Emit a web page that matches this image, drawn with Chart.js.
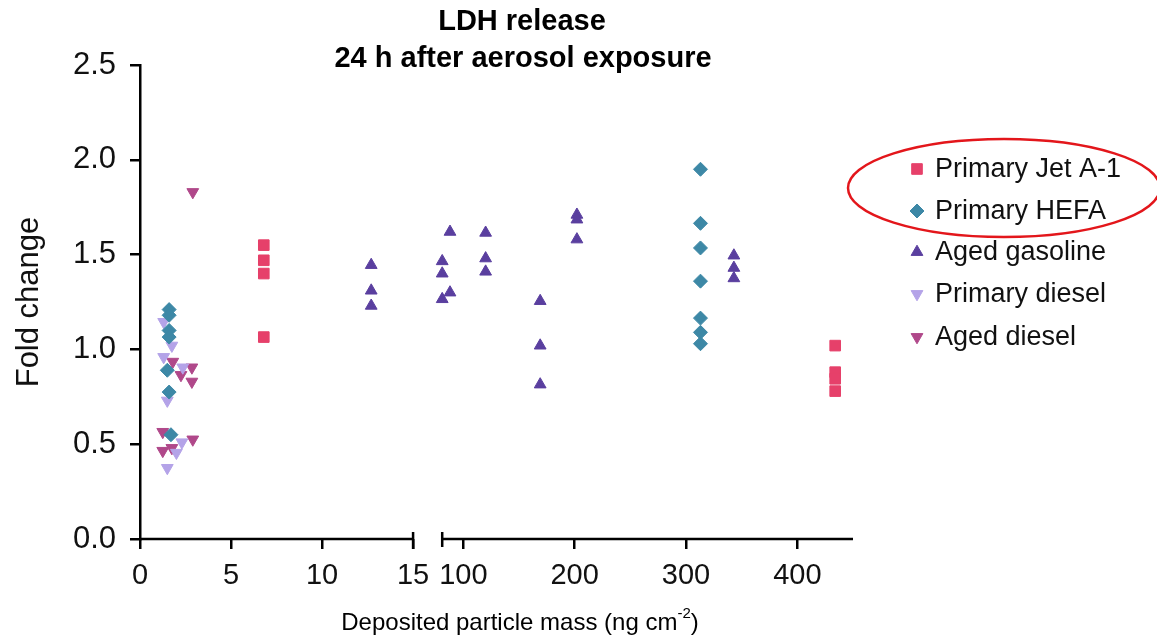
<!DOCTYPE html>
<html>
<head>
<meta charset="utf-8">
<script src="https://cdn.jsdelivr.net/npm/chart.js@4.4.1/dist/chart.umd.min.js"></script>
<style>
  html, body { margin: 0; background: #fff; }
</style>
</head>
<body>
<canvas id="ldhChart" width="1157" height="636"></canvas>
<script>
// deposited mass (ng cm-2) and fold change per aerosol type
const jetX = [6.8, 6.8, 6.8, 6.8, 434, 434, 434, 434];
const jetY = [1.55, 1.47, 1.40, 1.065, 1.02, 0.88, 0.845, 0.78];

const hefaX = [1.6, 1.6, 1.6, 1.6, 1.5, 1.6, 1.7, 313, 313, 313, 313, 313, 313, 313];
const hefaY = [1.21, 1.18, 1.10, 1.065, 0.89, 0.775, 0.55, 1.95, 1.665, 1.535, 1.36, 1.165, 1.09, 1.03];

const gasX = [12.7, 12.7, 12.7, 81, 81, 81, 88, 88, 120, 120, 120, 169, 169, 169, 202, 202, 202, 343, 343, 343];
const gasY = [1.445, 1.31, 1.23, 1.465, 1.40, 1.265, 1.62, 1.30, 1.615, 1.48, 1.41, 1.255, 1.02, 0.815, 1.71, 1.685, 1.58, 1.495, 1.43, 1.375];

const pDieselX = [1.3, 1.75, 1.3, 2.35, 1.5, 2.3, 2.0, 1.5];
const pDieselY = [1.145, 1.02, 0.96, 0.905, 0.73, 0.51, 0.455, 0.375];

const aDieselX = [2.9, 1.8, 2.85, 2.25, 2.85, 1.25, 2.9, 1.75, 1.25];
const aDieselY = [1.83, 0.935, 0.905, 0.865, 0.83, 0.565, 0.525, 0.48, 0.465];

const seriesNames = ['Primary Jet A-1', 'Primary HEFA', 'Aged gasoline', 'Primary diesel', 'Aged diesel'];
const xTickValues = [0, 5, 10, 15, 100, 200, 300, 400];
const yTicks = [0, 0.5, 1.0, 1.5, 2.0, 2.5];

// broken x axis: 0-15 linear, then 81-450 compressed
const BREAK_AT = 15;
const RIGHT_START = 81;
const RIGHT_OFFSET = 16.6;
const RIGHT_SCALE = 0.06115;
function toAxis(v) {
  return v <= BREAK_AT ? v : RIGHT_OFFSET + (v - RIGHT_START) * RIGHT_SCALE;
}

function pts(xs, ys) {
  return xs.map((x, i) => ({ x: toAxis(x), y: ys[i] }));
}

const FONT = '"Liberation Sans", Arial, Helvetica, sans-serif';

const styles = [
  { color: '#e6406a', pointStyle: 'rect', radius: 7.5, rotation: 0 },
  { color: '#3d88a6', pointStyle: 'rectRot', radius: 7, rotation: 0 },
  { color: '#5a3f9f', pointStyle: 'triangle', radius: 6.8, rotation: 0 },
  { color: '#b4a3e8', pointStyle: 'triangle', radius: 6.8, rotation: 180 },
  { color: '#b0488a', pointStyle: 'triangle', radius: 6.8, rotation: 180 }
];

const allData = [pts(jetX, jetY), pts(hefaX, hefaY), pts(gasX, gasY), pts(pDieselX, pDieselY), pts(aDieselX, aDieselY)];

const datasets = seriesNames.map((name, i) => ({
  label: name,
  data: allData[i],
  backgroundColor: styles[i].color,
  borderColor: styles[i].color,
  borderWidth: 1,
  pointStyle: styles[i].pointStyle,
  pointRadius: styles[i].radius,
  rotation: styles[i].rotation
}));

const decorations = {
  id: 'decorations',
  afterDraw(chart) {
    const ctx = chart.ctx;
    const xs = chart.scales.x;
    const area = chart.chartArea;
    const yb = area.bottom;
    ctx.save();

    // broken x axis line
    ctx.strokeStyle = '#000';
    ctx.lineWidth = 2.5;
    const x15 = xs.getPixelForValue(BREAK_AT);
    const xr = xs.getPixelForValue(toAxis(RIGHT_START));
    ctx.beginPath();
    ctx.moveTo(area.left - 1, yb);
    ctx.lineTo(x15, yb);
    ctx.moveTo(x15, yb - 7);
    ctx.lineTo(x15, yb + 10);
    ctx.moveTo(xr, yb - 7);
    ctx.lineTo(xr, yb + 8);
    ctx.moveTo(xr, yb);
    ctx.lineTo(area.right, yb);
    ctx.stroke();

    // title
    ctx.fillStyle = '#000';
    ctx.textAlign = 'center';
    ctx.textBaseline = 'middle';
    ctx.font = 'bold 29px ' + FONT;
    ctx.fillText('LDH release', 522, 22);
    ctx.fillText('24 h after aerosol exposure', 523, 59);

    // x axis title with superscript
    const main = 'Deposited particle mass (ng cm';
    const sup = '-2';
    const end = ')';
    ctx.font = '24px ' + FONT;
    const wMain = ctx.measureText(main).width;
    const wEnd = ctx.measureText(end).width;
    ctx.font = '15px ' + FONT;
    const wSup = ctx.measureText(sup).width;
    let tx = 520 - (wMain + wSup + wEnd) / 2;
    ctx.textAlign = 'left';
    ctx.font = '24px ' + FONT;
    ctx.fillText(main, tx, 623);
    tx += wMain;
    ctx.font = '15px ' + FONT;
    ctx.fillText(sup, tx, 614);
    tx += wSup;
    ctx.font = '24px ' + FONT;
    ctx.fillText(end, tx, 623);

    // legend
    const rows = [169, 211, 252, 294, 337];
    ctx.font = '27px ' + FONT;
    seriesNames.forEach((name, i) => {
      ctx.fillStyle = styles[i].color;
      ctx.strokeStyle = styles[i].color;
      ctx.lineWidth = 1;
      Chart.helpers.drawPoint(ctx, {
        pointStyle: styles[i].pointStyle,
        radius: styles[i].radius,
        rotation: styles[i].rotation,
        borderWidth: 1
      }, 917, rows[i]);
      ctx.fillStyle = '#111';
      ctx.fillText(name, 935, rows[i] + 1);
    });

    // red highlight ellipse
    ctx.strokeStyle = '#e3161b';
    ctx.lineWidth = 2.5;
    ctx.beginPath();
    ctx.ellipse(1004, 188, 156, 49, 0, 0, Math.PI * 2);
    ctx.stroke();

    ctx.restore();
  }
};

new Chart(document.getElementById('ldhChart'), {
  type: 'scatter',
  data: { datasets: datasets },
  options: {
    responsive: false,
    animation: false,
    events: [],
    layout: { padding: { top: 65, right: 304, bottom: 0, left: 0 } },
    plugins: {
      legend: { display: false },
      tooltip: { enabled: false }
    },
    scales: {
      x: {
        type: 'linear',
        min: 0,
        max: toAxis(450),
        afterBuildTicks: (scale) => {
          scale.ticks = xTickValues.map(v => ({ value: toAxis(v) }));
        },
        afterFit: (scale) => { scale.height = 97; },
        ticks: {
          autoSkip: false,
          maxRotation: 0,
          padding: 10,
          color: '#111',
          font: { family: FONT, size: 29 },
          callback: (val, idx) => String(xTickValues[idx])
        },
        grid: {
          drawOnChartArea: false,
          drawTicks: true,
          tickLength: 10,
          color: '#000',
          lineWidth: 2.5
        },
        border: { display: false }
      },
      y: {
        min: 0,
        max: 2.5,
        afterBuildTicks: (scale) => {
          scale.ticks = yTicks.map(v => ({ value: v }));
        },
        afterFit: (scale) => { scale.width = 140; },
        ticks: {
          padding: 14,
          color: '#111',
          font: { family: FONT, size: 31 },
          callback: (val) => Number(val).toFixed(1)
        },
        grid: {
          drawOnChartArea: false,
          drawTicks: true,
          tickLength: 10,
          color: '#000',
          lineWidth: 2.5
        },
        border: { display: true, color: '#000', width: 2.5 },
        title: {
          display: true,
          text: 'Fold change',
          color: '#111',
          font: { family: FONT, size: 31 },
          padding: { top: 11, bottom: 4 }
        }
      }
    }
  },
  plugins: [decorations]
});
</script>
</body>
</html>
